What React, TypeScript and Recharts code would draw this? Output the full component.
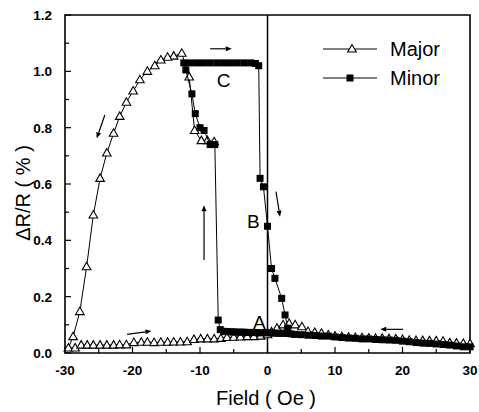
import React from 'react';
import { ScatterChart, Scatter, XAxis, YAxis, ReferenceLine, ReferenceArea, ReferenceDot } from 'recharts';

const FONT = '"Liberation Sans", Arial, sans-serif';

const fieldTicks = [-30, -25, -20, -15, -10, -5, 0, 5, 10, 15, 20, 25, 30];
const drTicks = [0, 0.1, 0.2, 0.3, 0.4, 0.5, 0.6, 0.7, 0.8, 0.9, 1.0, 1.1, 1.2];

// Major loop: upper branch coming down from the jump, then the low branch going up in field
const majorUpperField = [-7.9, -8.9, -9.8, -10.8, -11.6, -12.7, -13.9, -14.8, -15.8, -16.7, -17.8, -18.9, -19.9, -20.9, -21.9, -22.8, -23.8, -24.8, -25.8, -26.8, -27.8, -28.8];
const majorUpperDR = [0.75, 0.754, 0.754, 0.79, 0.98, 1.064, 1.054, 1.05, 1.04, 1.02, 1.0, 0.97, 0.93, 0.89, 0.84, 0.78, 0.71, 0.62, 0.49, 0.306, 0.147, 0.058];

const majorLowerField = [-29.5, -28.5, -27.6, -26.7, -25.8, -24.8, -23.8, -22.8, -21.9, -20.9, -19.8, -18.7, -17.8, -16.8, -15.8, -14.8, -13.9, -12.9, -11.9, -10.9, -9.9, -8.9, -7.9, -6.9, -6, -5, -4, -3, -2, -1, 0, 0.6, 1.4, 2.3, 3.2, 4.1, 5.1, 6, 7, 8, 9, 10, 11, 12, 13, 14, 15, 16, 17, 18, 19, 20, 21, 22, 23, 24, 25, 26, 27, 28, 29, 30];
const majorLowerDR = [0.018, 0.018, 0.028, 0.028, 0.028, 0.028, 0.028, 0.028, 0.029, 0.029, 0.037, 0.038, 0.038, 0.037, 0.038, 0.038, 0.039, 0.039, 0.04, 0.048, 0.05, 0.05, 0.05, 0.052, 0.055, 0.056, 0.057, 0.058, 0.058, 0.06, 0.065, 0.075, 0.088, 0.1, 0.105, 0.1, 0.093, 0.076, 0.073, 0.07, 0.064, 0.06, 0.058, 0.056, 0.055, 0.054, 0.053, 0.052, 0.052, 0.051, 0.05, 0.048, 0.045, 0.044, 0.044, 0.043, 0.043, 0.042, 0.036, 0.035, 0.034, 0.033];

// Minor loop, in sweep order: +30 down to the jump, up to the plateau C, then the drop at B
const minorField = [30, 29, 28, 27, 26, 25, 24, 23, 22, 21, 20, 19, 18, 17, 16, 15, 14, 13, 12, 11, 10, 9, 8, 7, 6, 5, 4, 3.5, 3, 2.5, 2, 1.5, 1, 0.5, 0, -0.5, -1, -1.5, -2, -2.5, -3, -3.5, -4, -4.5, -5, -5.5, -6, -6.5, -7, -7.3, -7.8, -8.5, -9.4, -10, -10.7, -11.2, -12.1, -12.4, -11.5, -10.5, -9.5, -8.5, -7.5, -6.5, -5.5, -4.5, -3.5, -2.5, -1.8, -1.3, -1.1, -0.6, 0, 0.6, 1.1, 2.1, 2.6, 3.0];
const minorDR = [0.022, 0.022, 0.025, 0.028, 0.03, 0.032, 0.034, 0.035, 0.037, 0.04, 0.042, 0.045, 0.046, 0.047, 0.048, 0.05, 0.05, 0.052, 0.053, 0.055, 0.057, 0.06, 0.06, 0.062, 0.063, 0.065, 0.066, 0.068, 0.07, 0.07, 0.07, 0.07, 0.071, 0.071, 0.072, 0.072, 0.072, 0.072, 0.073, 0.073, 0.073, 0.074, 0.074, 0.074, 0.075, 0.075, 0.076, 0.077, 0.083, 0.117, 0.74, 0.74, 0.79, 0.8, 0.85, 0.92, 1.005, 1.03, 1.03, 1.03, 1.03, 1.03, 1.03, 1.03, 1.03, 1.03, 1.03, 1.03, 1.028, 1.02, 0.62, 0.59, 0.45, 0.3, 0.265, 0.194, 0.135, 0.088];

const arrows = [
  { from: [-8.5, 1.08], to: [-5.3, 1.08] },
  { from: [-24.1, 0.845], to: [-25.3, 0.762] },
  { from: [-20.8, 0.066], to: [-17.2, 0.078] },
  { from: [-9.4, 0.33], to: [-9.4, 0.525] },
  { from: [1.26, 0.573], to: [1.85, 0.484] },
  { from: [20.1, 0.084], to: [16.7, 0.084] },
];

const letters = [
  { text: 'C', x: -6.5, y: 0.969 },
  { text: 'B', x: -2.1, y: 0.466 },
  { text: 'A', x: -1.2, y: 0.108 },
];

const zip = (xs: number[], ys: number[]) => xs.map((x, i) => ({ x, y: ys[i] }));
const majorData = [...zip(majorUpperField, majorUpperDR), ...zip(majorLowerField, majorLowerDR)];
const minorData = zip(minorField, minorDR);

const Triangle = (props: any) => {
  const { cx, cy } = props;
  return (
    <polygon
      points={`${cx},${cy - 4.5} ${cx - 4.3},${cy + 3} ${cx + 4.3},${cy + 3}`}
      fill="#fff"
      stroke="#000"
      strokeWidth={1.1}
    />
  );
};

const Square = (props: any) => {
  const { cx, cy } = props;
  return <rect x={cx - 3.5} y={cy - 3.5} width={7} height={7} fill="#000" />;
};

const FieldTick = (props: any) => {
  const { x, y, payload } = props;
  const v = payload.value;
  const major = v % 10 === 0;
  return (
    <g>
      <line x1={x} x2={x} y1={y} y2={y - (major ? 6 : 4)} stroke="#000" strokeWidth={1.2} />
      {major && (
        <text x={x} y={y + 22} textAnchor="middle" fontSize={13.5} fontWeight="bold" fontFamily={FONT} fill="#000">
          {v}
        </text>
      )}
    </g>
  );
};

const DRTick = (props: any) => {
  const { x, y, payload } = props;
  const v = payload.value;
  const major = Math.round(v * 10) % 2 === 0;
  return (
    <g>
      <line x1={x} x2={x + (major ? 6 : 4)} y1={y} y2={y} stroke="#000" strokeWidth={1.2} />
      {major && (
        <text x={x - 13} y={y + 5} textAnchor="end" fontSize={13.5} fontWeight="bold" fontFamily={FONT} fill="#000">
          {v.toFixed(1)}
        </text>
      )}
    </g>
  );
};

const ArrowShape = (props: any) => {
  const { x1, y1, x2, y2 } = props;
  const ang = Math.atan2(y2 - y1, x2 - x1);
  const len = 6;
  const half = 2.5;
  const bx = x2 - len * Math.cos(ang);
  const by = y2 - len * Math.sin(ang);
  const px = -Math.sin(ang) * half;
  const py = Math.cos(ang) * half;
  return (
    <g>
      <line x1={x1} y1={y1} x2={bx} y2={by} stroke="#000" strokeWidth={1.2} />
      <polygon points={`${x2},${y2} ${bx + px},${by + py} ${bx - px},${by - py}`} fill="#000" />
    </g>
  );
};

export default function App() {
  return (
    <div style={{ position: 'absolute', left: 0, top: 0, width: 479, height: 412, background: '#fff' }}>
      <ScatterChart width={479} height={412} margin={{ top: 15, right: 9, bottom: 0, left: 0 }}>
        <XAxis
          dataKey="x"
          type="number"
          domain={[-30, 30]}
          ticks={fieldTicks}
          interval={0}
          tickSize={0}
          tickMargin={0}
          tick={<FieldTick />}
          axisLine={false}
          height={59}
          label={{
            content: () => (
              <text x={266} y={405} textAnchor="middle" fontSize={20} fontFamily={FONT} fill="#000">
                Field ( Oe )
              </text>
            ),
          }}
        />
        <YAxis
          dataKey="y"
          type="number"
          domain={[0, 1.2]}
          ticks={drTicks}
          interval={0}
          tickSize={0}
          tickMargin={0}
          tick={<DRTick />}
          axisLine={false}
          width={65}
          label={{
            content: () => (
              <text
                x={23}
                y={193}
                transform="rotate(-90, 23, 193)"
                textAnchor="middle"
                dominantBaseline="central"
                fontSize={20}
                fontFamily={FONT}
                fill="#000"
              >
                ΔR/R ( % )
              </text>
            ),
          }}
        />
        <ReferenceArea x1={-30} x2={30} y1={0} y2={1.2} fill="none" stroke="#000" strokeWidth={1.6} fillOpacity={0} />
        <ReferenceLine x={0} stroke="#000" strokeWidth={1.5} />
        {arrows.map((a, i) => (
          <ReferenceLine
            key={i}
            segment={[{ x: a.from[0], y: a.from[1] }, { x: a.to[0], y: a.to[1] }]}
            shape={<ArrowShape />}
          />
        ))}
        {letters.map((l) => (
          <ReferenceDot
            key={l.text}
            x={l.x}
            y={l.y}
            r={0}
            stroke="none"
            label={{ value: l.text, position: 'center', fontSize: 19, fill: '#000', fontFamily: FONT }}
          />
        ))}
        <Scatter
          name="Major"
          data={majorData}
          line={{ stroke: '#000', strokeWidth: 1 }}
          shape={<Triangle />}
          isAnimationActive={false}
        />
        <Scatter
          name="Minor"
          data={minorData}
          line={{ stroke: '#000', strokeWidth: 1 }}
          shape={<Square />}
          isAnimationActive={false}
        />
      </ScatterChart>
      <svg
        style={{ position: 'absolute', left: 320, top: 35 }}
        width={150}
        height={60}
      >
        <line x1={3} x2={57} y1={14} y2={14} stroke="#000" strokeWidth={1} />
        <polygon points="32,9.5 27.7,17 36.3,17" fill="#fff" stroke="#000" strokeWidth={1.1} />
        <text x={70} y={21} fontSize={20} fontFamily={FONT} fill="#000">Major</text>
        <line x1={3} x2={57} y1={43} y2={43} stroke="#000" strokeWidth={1} />
        <rect x={26.5} y={39.5} width={7} height={7} fill="#000" />
        <text x={70} y={50} fontSize={20} fontFamily={FONT} fill="#000">Minor</text>
      </svg>
    </div>
  );
}
